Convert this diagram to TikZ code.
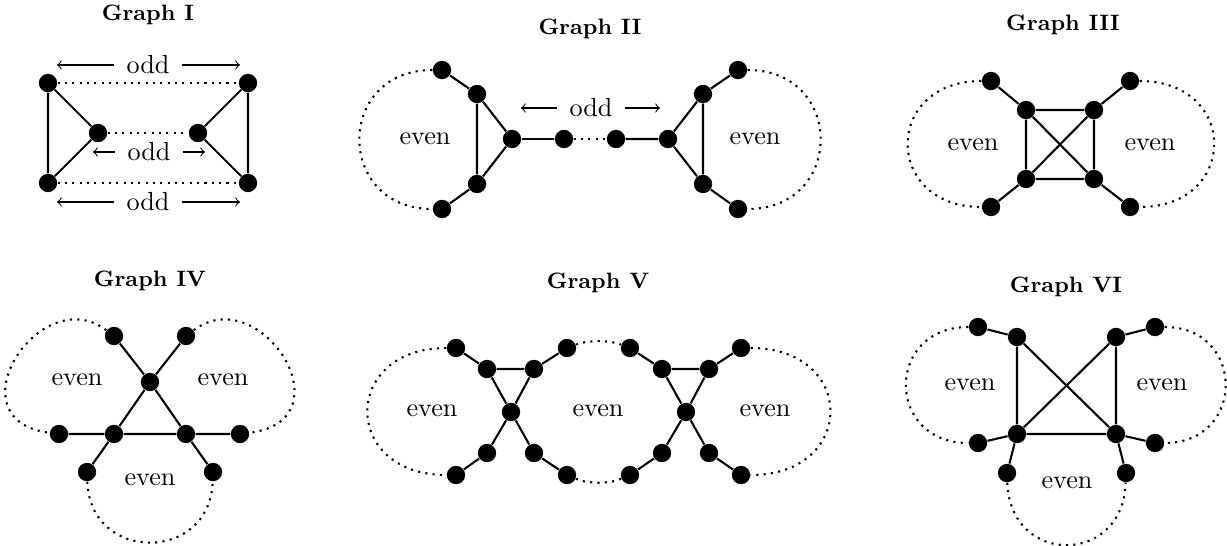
\documentclass[tikz,border=0pt]{standalone}
\usepackage{amssymb}
\usetikzlibrary{calc}

\begin{document}
\begin{tikzpicture}[x=0.3817pt, y=-0.3817pt,
            vtx/.style={circle, fill=black, inner sep=0pt, minimum size=7pt},
            sol/.style={thick},
            walk/.style={thick, dotted},
            ttl/.style={font=\fontsize{8.5}{10}\selectfont\bfseries},
            lbl/.style={inner sep=4.5pt},
            arr/.style={->, thin}]
            \useasboundingbox (0,0) rectangle (1227,545);

            \node[ttl] (tI) at (148,15) {Graph I};
            \node[vtx] (a1) at (48,83) {};
            \node[vtx] (a2) at (248,83) {};
            \node[vtx] (a3) at (98,133) {};
            \node[vtx] (a4) at (198,133) {};
            \node[vtx] (a5) at (48,183) {};
            \node[vtx] (a6) at (248,183) {};
            \draw[sol] (a1) -- (a5) -- (a3) -- (a1);
            \draw[sol] (a2) -- (a6) -- (a4) -- (a2);
            \draw[walk] (a1) -- (a2);
            \draw[walk] (a3) -- (a4);
            \draw[walk] (a5) -- (a6);
            \node[lbl] (oa1) at (148,65) {odd};
            \node[lbl] (oa2) at (149,152) {odd};
            \node[lbl] (oa3) at (148,202) {odd};
            \coordinate (oa1l) at (57,65);
            \coordinate (oa1r) at (240,65);
            \coordinate (oa2l) at (93,152);
            \coordinate (oa2r) at (205,152);
            \coordinate (oa3l) at (57,202);
            \coordinate (oa3r) at (240,202);
            \draw[arr] (oa1) -- (oa1l);
            \draw[arr] (oa1) -- (oa1r);
            \draw[arr] (oa2) -- (oa2l);
            \draw[arr] (oa2) -- (oa2r);
            \draw[arr] (oa3) -- (oa3l);
            \draw[arr] (oa3) -- (oa3r);

            \node[ttl] (tII) at (590,29) {Graph II};
            \node[vtx] (b1) at (442,70) {};
            \node[vtx] (b2) at (477,94) {};
            \node[vtx] (b3) at (512,139) {};
            \node[vtx] (b4) at (477,184) {};
            \node[vtx] (b5) at (442,209) {};
            \node[vtx] (b6) at (564,139) {};
            \node[vtx] (b7) at (616,139) {};
            \node[vtx] (b8) at (668,139) {};
            \node[vtx] (b9) at (703,94) {};
            \node[vtx] (b10) at (738,70) {};
            \node[vtx] (b11) at (703,184) {};
            \node[vtx] (b12) at (738,209) {};
            \draw[sol] (b1) -- (b2) -- (b3) -- (b4) -- (b2);
            \draw[sol] (b4) -- (b5);
            \draw[sol] (b3) -- (b6);
            \draw[sol] (b7) -- (b8) -- (b9) -- (b11) -- (b8);
            \draw[sol] (b9) -- (b10);
            \draw[sol] (b11) -- (b12);
            \draw[walk] (b6) -- (b7);
            \draw[walk] (b1) .. controls (335,70) and (335,209) .. (b5);
            \draw[walk] (b10) .. controls (845,70) and (845,209) .. (b12);
            \node (eb1) at (425,139) {even};
            \node (eb2) at (755,139) {even};
            \node[lbl] (ob) at (591,108) {odd};
            \coordinate (obl) at (521,108);
            \coordinate (obr) at (660,108);
            \draw[arr] (ob) -- (obl);
            \draw[arr] (ob) -- (obr);

            \node[ttl] (tIII) at (1063,25) {Graph III};
            \node[vtx] (c1) at (991,81) {};
            \node[vtx] (c2) at (1026,110) {};
            \node[vtx] (c3) at (1094,110) {};
            \node[vtx] (c4) at (1130,81) {};
            \node[vtx] (c5) at (1026,179) {};
            \node[vtx] (c6) at (1094,179) {};
            \node[vtx] (c7) at (991,207) {};
            \node[vtx] (c8) at (1130,207) {};
            \draw[sol] (c2) -- (c3) -- (c6) -- (c5) -- (c2) -- (c6);
            \draw[sol] (c3) -- (c5);
            \draw[sol] (c1) -- (c2);
            \draw[sol] (c4) -- (c3);
            \draw[sol] (c7) -- (c5);
            \draw[sol] (c8) -- (c6);
            \draw[walk] (c1) .. controls (883,81) and (883,207) .. (c7);
            \draw[walk] (c4) .. controls (1239,81) and (1239,207) .. (c8);
            \node (ec1) at (973,145) {even};
            \node (ec2) at (1150,145) {even};

            \node[ttl] (tIV) at (150,281) {Graph IV};
            \node[vtx] (d1) at (114,336) {};
            \node[vtx] (d2) at (186,336) {};
            \node[vtx] (d3) at (150,382) {};
            \node[vtx] (d4) at (114,434) {};
            \node[vtx] (d5) at (186,434) {};
            \node[vtx] (d6) at (59,434) {};
            \node[vtx] (d7) at (240,434) {};
            \node[vtx] (d8) at (87,472) {};
            \node[vtx] (d9) at (213,472) {};
            \draw[sol] (d1) -- (d3) -- (d5) -- (d4) -- (d3) -- (d2);
            \draw[sol] (d6) -- (d4) -- (d8);
            \draw[sol] (d7) -- (d5) -- (d9);
            \draw[walk] (d1) .. controls (40,280) and (-50,420) .. (d6);
            \draw[walk] (d2) .. controls (260,280) and (350,420) .. (d7);
            \draw[walk] (d8) .. controls (90,563) and (210,563) .. (d9);
            \node (ed1) at (77,380) {even};
            \node (ed2) at (223,380) {even};
            \node (ed3) at (150,480) {even};

            \node[ttl] (tV) at (598,283) {Graph V};
            \node[vtx] (e1) at (456,348) {};
            \node[vtx] (e2) at (487,369) {};
            \node[vtx] (e3) at (534,369) {};
            \node[vtx] (e4) at (567,348) {};
            \node[vtx] (e5) at (511,412) {};
            \node[vtx] (e6) at (487,453) {};
            \node[vtx] (e7) at (534,453) {};
            \node[vtx] (e8) at (456,475) {};
            \node[vtx] (e9) at (567,475) {};
            \node[vtx] (f1) at (630,348) {};
            \node[vtx] (f2) at (662,369) {};
            \node[vtx] (f3) at (709,369) {};
            \node[vtx] (f4) at (741,348) {};
            \node[vtx] (f5) at (686,412) {};
            \node[vtx] (f6) at (662,453) {};
            \node[vtx] (f7) at (709,453) {};
            \node[vtx] (f8) at (630,475) {};
            \node[vtx] (f9) at (741,475) {};
            \draw[sol] (e1) -- (e2) -- (e3) -- (e4);
            \draw[sol] (e2) -- (e5) -- (e3);
            \draw[sol] (e8) -- (e6) -- (e5) -- (e7) -- (e9);
            \draw[sol] (f1) -- (f2) -- (f3) -- (f4);
            \draw[sol] (f2) -- (f5) -- (f3);
            \draw[sol] (f8) -- (f6) -- (f5) -- (f7) -- (f9);
            \draw[walk] (e1) .. controls (341,348) and (341,475) .. (e8);
            \draw[walk] (e4) .. controls (588,340) and (609,340) .. (f1);
            \draw[walk] (e9) .. controls (588,484) and (609,484) .. (f8);
            \draw[walk] (f4) .. controls (857,348) and (857,475) .. (f9);
            \node (ee1) at (432,411) {even};
            \node (ee2) at (598,411) {even};
            \node (ee3) at (765,411) {even};

            \node[ttl] (tVI) at (1066,287) {Graph VI};
            \node[vtx] (g1) at (1017,337) {};
            \node[vtx] (g2) at (1116,337) {};
            \node[vtx] (g3) at (1017,434) {};
            \node[vtx] (g4) at (1116,434) {};
            \node[vtx] (g5) at (978,327) {};
            \node[vtx] (g6) at (1155,327) {};
            \node[vtx] (g7) at (978,443) {};
            \node[vtx] (g8) at (1155,443) {};
            \node[vtx] (g9) at (1007,473) {};
            \node[vtx] (g10) at (1126,473) {};
            \draw[sol] (g1) -- (g3) -- (g4) -- (g2) -- (g3);
            \draw[sol] (g1) -- (g4);
            \draw[sol] (g5) -- (g1);
            \draw[sol] (g6) -- (g2);
            \draw[sol] (g7) -- (g3) -- (g9);
            \draw[sol] (g8) -- (g4) -- (g10);
            \draw[walk] (g5) .. controls (885,327) and (885,443) .. (g7);
            \draw[walk] (g6) .. controls (1246,327) and (1246,443) .. (g8);
            \draw[walk] (g9) .. controls (1010,566) and (1123,566) .. (g10);
            \node (eg1) at (970,385) {even};
            \node (eg2) at (1162,385) {even};
            \node (eg3) at (1067,483) {even};
\end{tikzpicture}
\end{document}
